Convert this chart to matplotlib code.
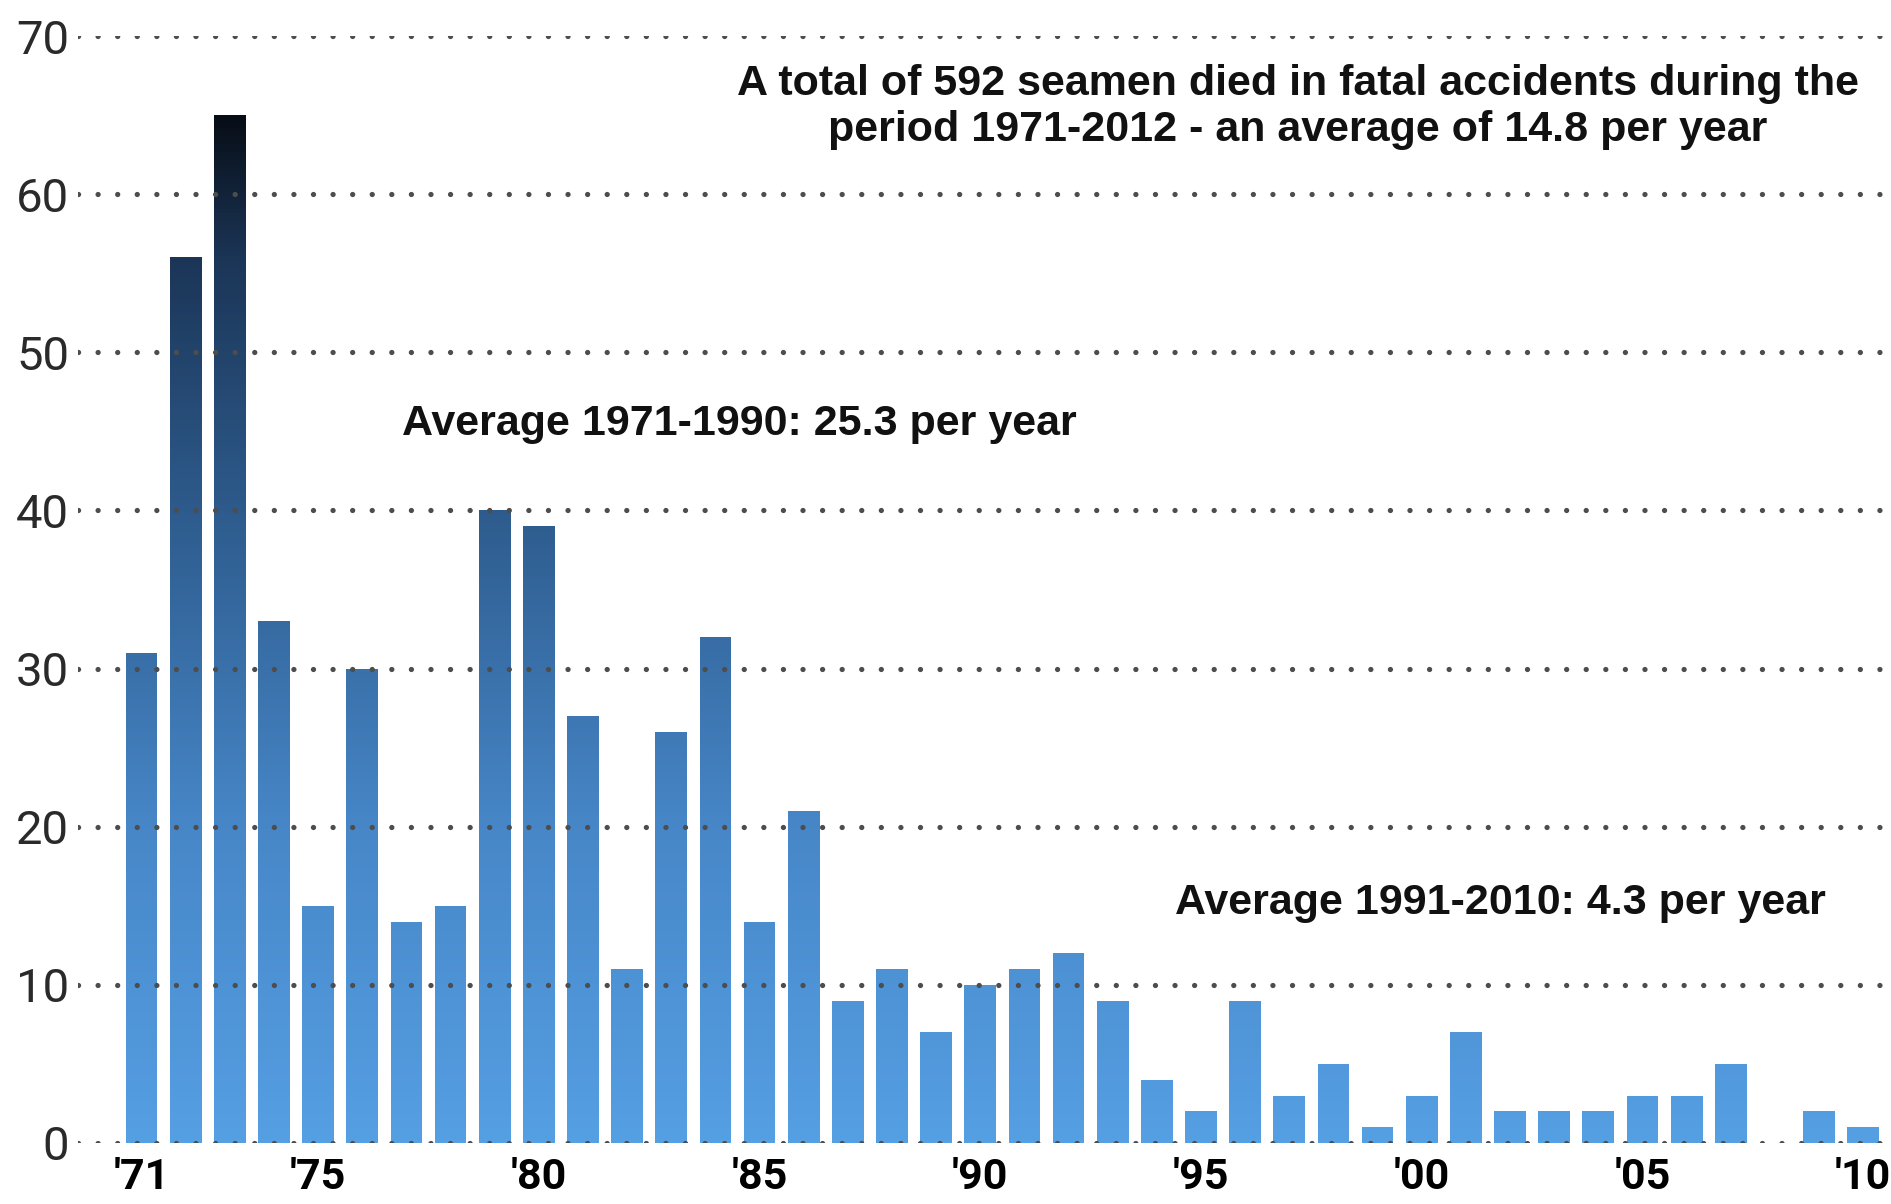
import matplotlib
matplotlib.use('Agg')
import matplotlib.pyplot as plt
import numpy as np
from matplotlib.colors import LinearSegmentedColormap
from matplotlib.path import Path
from matplotlib.patches import PathPatch

# seamen killed in fatal accidents, 1971-2010
years = list(range(1971, 2011))
deaths = [31, 56, 65, 33, 15, 30, 14, 15, 40, 39,
          27, 11, 26, 32, 14, 21, 9, 11, 7, 10,
          11, 12, 9, 4, 2, 9, 3, 5, 1, 3,
          7, 2, 2, 2, 3, 3, 5, 0, 2, 1]
tick_years = [1971, 1975, 1980, 1985, 1990, 1995, 2000, 2005, 2010]
tick_labels = ["'71", "'75", "'80", "'85", "'90", "'95", "'00", "'05", "'10"]
y_ticks = [0, 10, 20, 30, 40, 50, 60, 70]

fig = plt.figure(figsize=(18.91, 12.04), dpi=100)
ax = fig.add_axes([0.041, 0.0507, 0.959, 0.9193])

x = np.arange(len(years))
bars = ax.bar(x, deaths, width=0.72, color='none', edgecolor='none')

# vertical gradient shared by all bars, clipped to the bar shapes
cmap = LinearSegmentedColormap.from_list('sea', [
    (0.00, '#559fe3'), (0.30, '#4787c8'), (0.60, '#2e5c8e'),
    (0.85, '#1b3556'), (1.00, '#05090f')])
grad = np.linspace(0, 1, 256).reshape(-1, 1)
img = ax.imshow(grad, cmap=cmap, origin='lower', aspect='auto',
                extent=[-1.5, 40, 0, 66], zorder=1)
paths = [b.get_path().transformed(b.get_patch_transform()) for b in bars]
clip = PathPatch(Path.make_compound_path(*paths), transform=ax.transData,
                 facecolor='none', edgecolor='none')
ax.add_patch(clip)
img.set_clip_path(clip)

ax.set_xlim(-1.45, 39.63)
ax.set_ylim(0, 70)

ax.set_yticks(y_ticks)
ax.set_xticks([years.index(y) for y in tick_years])
ax.set_xticklabels(tick_labels, fontsize=31, fontweight='bold', family='Roboto')
ax.tick_params(axis='x', length=0, pad=10, colors='black')
ax.tick_params(axis='y', length=0, pad=6, labelsize=34, labelcolor='#2a2a2a')
for lbl in ax.get_yticklabels():
    lbl.set_family('Roboto')

ax.grid(axis='y', color='#4d4d4d', linewidth=3.8, linestyle=(0, (0.01, 3.7)),
        dash_capstyle='round', zorder=3)
ax.set_axisbelow(False)
for s in ax.spines.values():
    s.set_visible(False)

txt = dict(fontsize=31, fontweight='bold', family='Liberation Sans', color='#111111')
ax.text(26.2, 65.5, 'A total of 592 seamen died in fatal accidents during the\n'
        'period 1971-2012 - an average of 14.8 per year',
        ha='center', va='center', linespacing=1.2, **txt)
ax.text(5.89, 45.5, 'Average 1971-1990: 25.3 per year', ha='left', va='center', **txt)
ax.text(23.4, 15.2, 'Average 1991-2010: 4.3 per year', ha='left', va='center', **txt)

plt.savefig('out.png', dpi=100)
plt.close()
